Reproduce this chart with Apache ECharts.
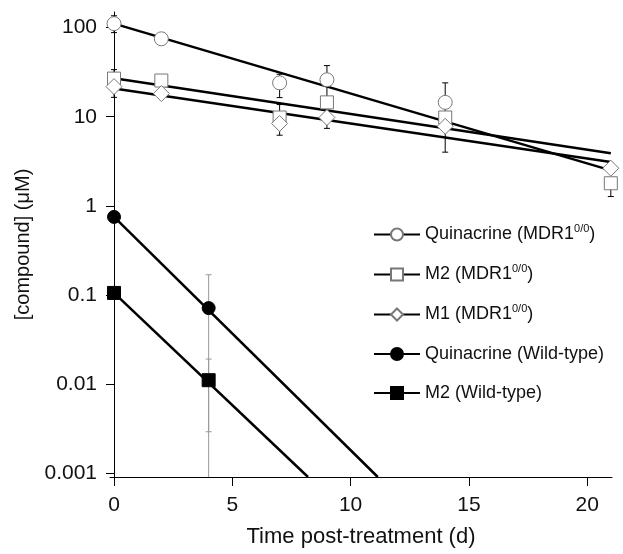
<!DOCTYPE html>
<html>
<head>
<meta charset="utf-8">
<script src="https://cdn.jsdelivr.net/npm/echarts@6/dist/echarts.min.js"></script>
<style>html,body{margin:0;padding:0;background:#fff}#chart{width:623px;height:554px}</style>
</head>
<body>
<div id="chart"></div>
<script>
var xTicks = [0, 5, 10, 15, 20];
var yTicks = [0.001, 0.01, 0.1, 1, 10, 100];
var yMin = 0.0009, yMax = 150;

var names = ['Quinacrine (MDR1)', 'M2 (MDR1)', 'M1 (MDR1)', 'Quinacrine (Wild-type)', 'M2 (Wild-type)'];

// measured points (d, uM) with error bar ends
var qMdrX = [0, 2, 7, 9, 14];
var qMdrY = [111, 75, 24, 26, 14.5];
var qMdrLow = [88, 75, 16.4, 15, 4.0];
var qMdrHigh = [136, 75, 30, 37.5, 24];

var m2MdrX = [0, 2, 7, 9, 14, 21];
var m2MdrY = [26.8, 25.5, 9.8, 14.5, 9.8, 1.79];
var m2MdrLow = [26.8, 25.5, 9.8, 14.5, 9.8, 1.27];
var m2MdrHigh = [33.8, 25.5, 13.7, 14.5, 9.8, 1.79];

var m1MdrX = [0, 2, 7, 9, 14, 21];
var m1MdrY = [21.8, 18.2, 8.4, 9.8, 7.8, 2.64];
var m1MdrLow = [16.5, 18.2, 6.2, 7.4, 7.8, 2.64];
var m1MdrHigh = [21.8, 18.2, 8.4, 9.8, 7.8, 2.64];

var qWtX = [0, 4];
var qWtY = [0.75, 0.071];
var qWtLow = [0.75, 0.0009];
var qWtHigh = [0.75, 0.168];

var m2WtX = [0, 4];
var m2WtY = [0.105, 0.011];
var m2WtLow = [0.105, 0.0029];
var m2WtHigh = [0.105, 0.019];

// fitted exponential decay lines (end points)
var qMdrFitX = [0, 21], qMdrFitY = [111, 2.5];
var m2MdrFitX = [0, 21], m2MdrFitY = [27, 3.9];
var m1MdrFitX = [0, 21], m1MdrFitY = [20.7, 3.1];
var qWtFitX = [0, 11.15], qWtFitY = [0.75, 0.0009];
var m2WtFitX = [0, 8.2], m2WtFitY = [0.105, 0.0009];

function pairs(xs, ys) {
  var out = [];
  for (var i = 0; i < xs.length; i++) out.push([xs[i], ys[i]]);
  return out;
}
function errs(xs, lo, hi) {
  var out = [];
  for (var i = 0; i < xs.length; i++) {
    if (lo[i] != hi[i]) out.push([xs[i], lo[i], hi[i]]);
  }
  return out;
}
function errSeries(data, color, cap) {
  return {
    type: 'custom', data: data, z: 3, silent: true,
    renderItem: function (params, api) {
      var x = api.value(0), lo = api.value(1), hi = api.value(2);
      var a = api.coord([x, lo]), b = api.coord([x, hi]);
      var st = {stroke: color, lineWidth: 1};
      var kids = [{type: 'line', shape: {x1: a[0], y1: a[1], x2: b[0], y2: b[1]}, style: st},
        {type: 'line', shape: {x1: b[0] - cap, y1: b[1], x2: b[0] + cap, y2: b[1]}, style: st}];
      if (lo > yMin) kids.push({type: 'line', shape: {x1: a[0] - cap, y1: a[1], x2: a[0] + cap, y2: a[1]}, style: st});
      return {type: 'group', children: kids};
    }
  };
}
function fitSeries(xs, ys) {
  return {type: 'line', data: pairs(xs, ys), symbol: 'none', z: 2, silent: true,
    lineStyle: {color: '#000', width: 2.5}};
}
function pointSeries(name, xs, ys, symbol, size, fill, border) {
  return {type: 'line', name: name, data: pairs(xs, ys), symbol: symbol, symbolSize: size,
    showAllSymbol: true, z: 5,
    lineStyle: {width: 0, opacity: 0},
    itemStyle: {color: fill, borderColor: border, borderWidth: 1, opacity: 1}};
}

var chart = echarts.init(document.getElementById('chart'));
chart.setOption({
  animation: false,
  textStyle: {fontFamily: 'Liberation Sans, Arial, sans-serif'},
  grid: {left: 110, right: 11, top: 12, bottom: 77},
  legend: {
    orient: 'vertical', left: 368, top: 218, itemWidth: 46, itemHeight: 15, itemGap: 17,
    data: names,
    lineStyle: {color: '#000', width: 2, opacity: 1},
    textStyle: {fontSize: 18, color: '#111', lineHeight: 22,
      rich: {sup: {fontSize: 11, lineHeight: 22, padding: [0, 0, 12, 0], color: '#111'}}},
    formatter: function (n) { return n.replace('(MDR1)', '(MDR1{sup|0/0})'); }
  },
  xAxis: {
    type: 'value', min: -0.17, max: 21.05,
    name: 'Time post-treatment (d)', nameLocation: 'middle', nameGap: 49,
    nameTextStyle: {fontSize: 22, color: '#111'},
    splitLine: {show: false},
    axisLine: {lineStyle: {color: '#000', width: 1}},
    axisTick: {length: 9, lineStyle: {color: '#000'}, customValues: xTicks},
    axisLabel: {fontSize: 21, color: '#111', margin: 18, customValues: xTicks}
  },
  yAxis: {
    type: 'log', logBase: 10, min: yMin, max: yMax,
    name: '[compound] (\u03bcM)', nameLocation: 'middle', nameGap: 72, nameRotate: 90,
    nameTextStyle: {fontSize: 20, color: '#111'},
    splitLine: {show: false},
    axisLine: {show: true, lineStyle: {color: '#000', width: 1}},
    axisTick: {show: true, length: 8, lineStyle: {color: '#000'}, customValues: yTicks},
    axisLabel: {fontSize: 21, color: '#111', margin: 13, customValues: yTicks,
      formatter: function (v) { return String(v); }}
  },
  series: [
    fitSeries(qMdrFitX, qMdrFitY),
    fitSeries(m2MdrFitX, m2MdrFitY),
    fitSeries(m1MdrFitX, m1MdrFitY),
    fitSeries(qWtFitX, qWtFitY),
    fitSeries(m2WtFitX, m2WtFitY),
    errSeries(errs(qMdrX, qMdrLow, qMdrHigh), '#000', 3),
    errSeries(errs(m2MdrX, m2MdrLow, m2MdrHigh), '#000', 3),
    errSeries(errs(m1MdrX, m1MdrLow, m1MdrHigh), '#000', 3),
    errSeries(errs(qWtX, qWtLow, qWtHigh), '#999', 3),
    errSeries(errs(m2WtX, m2WtLow, m2WtHigh), '#999', 3),
    pointSeries(names[0], qMdrX, qMdrY, 'circle', 14, '#fff', '#777'),
    pointSeries(names[1], m2MdrX, m2MdrY, 'rect', 13, '#fff', '#777'),
    pointSeries(names[2], m1MdrX, m1MdrY, 'diamond', 16, '#fff', '#777'),
    pointSeries(names[3], qWtX, qWtY, 'circle', 13, '#000', '#000'),
    pointSeries(names[4], m2WtX, m2WtY, 'rect', 13, '#000', '#000')
  ]
});
</script>
</body>
</html>
